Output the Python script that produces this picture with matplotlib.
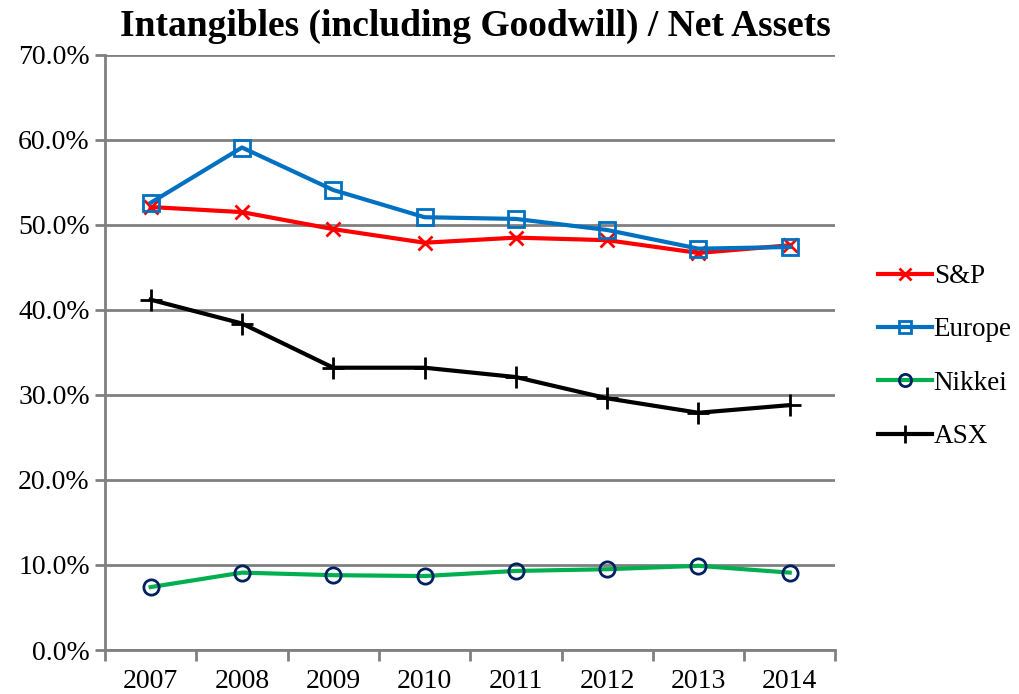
import matplotlib.pyplot as plt
import numpy as np
from matplotlib.ticker import FuncFormatter, FixedLocator

plt.rcParams['font.family'] = ['Liberation Serif', 'DejaVu Serif']

# data
years = ["2007", "2008", "2009", "2010", "2011", "2012", "2013", "2014"]
sp = [52.1, 51.5, 49.5, 47.9, 48.5, 48.2, 46.7, 47.6]
europe = [52.6, 59.1, 54.1, 50.9, 50.7, 49.4, 47.2, 47.4]
nikkei = [7.4, 9.1, 8.8, 8.7, 9.3, 9.5, 9.9, 9.1]
asx = [41.2, 38.4, 33.2, 33.2, 32.1, 29.6, 27.9, 28.8]

fig = plt.figure(figsize=(10.2, 6.94), dpi=100)
ax = fig.add_axes([0.103, 0.0634, 0.716, 0.8576])

x = np.arange(len(years))
ax.plot(x, sp, color="#ff0000", lw=3, marker="x", ms=10, mew=2,
        label="S&P", zorder=3)
ax.plot(x, europe, color="#0070c0", lw=3, marker="s", ms=11, mew=2,
        mfc="none", mec="#0070c0", label="Europe", zorder=4)
ax.plot(x, nikkei, color="#00b050", lw=3, marker="o", ms=11, mew=2,
        mfc="none", mec="#002060", label="Nikkei", zorder=3)
ax.plot(x, asx, color="black", lw=3, marker="+", ms=16, mew=2,
        label="ASX", zorder=3)

ax.set_xlim(-0.5, len(years) - 0.5)
ax.set_ylim(0, 70)
ax.set_yticks(np.arange(0, 71, 10))
ax.yaxis.set_major_formatter(FuncFormatter(lambda v, p: f"{v:.1f}%"))
ax.set_xticks(x)
ax.set_xticklabels(years)
ax.xaxis.set_minor_locator(FixedLocator(np.arange(-0.5, len(years), 1)))
ax.tick_params(axis="x", which="major", length=0, labelsize=20, pad=14)
ax.tick_params(axis="x", which="minor", length=8, width=2, color="#808080")
ax.tick_params(axis="y", length=7, width=2, color="#808080", labelsize=20, pad=4)

ax.grid(axis="y", color="#808080", lw=2)
ax.set_axisbelow(True)
for s in ["top", "right"]:
    ax.spines[s].set_visible(False)
for s in ["left", "bottom"]:
    ax.spines[s].set_color("#808080")
    ax.spines[s].set_linewidth(2)

fig.text(0.466, 0.962, "Intangibles (including Goodwill) / Net Assets",
         ha="center", va="center", fontsize=27, fontweight="bold")

fig.legend(loc="center left", bbox_to_anchor=(0.861, 0.486), frameon=False,
           fontsize=19.5, labelspacing=1.05, handlelength=2.0,
           handletextpad=0.05, borderaxespad=0, borderpad=0,
           markerscale=0.8)

fig.savefig("out.png", dpi=100)
